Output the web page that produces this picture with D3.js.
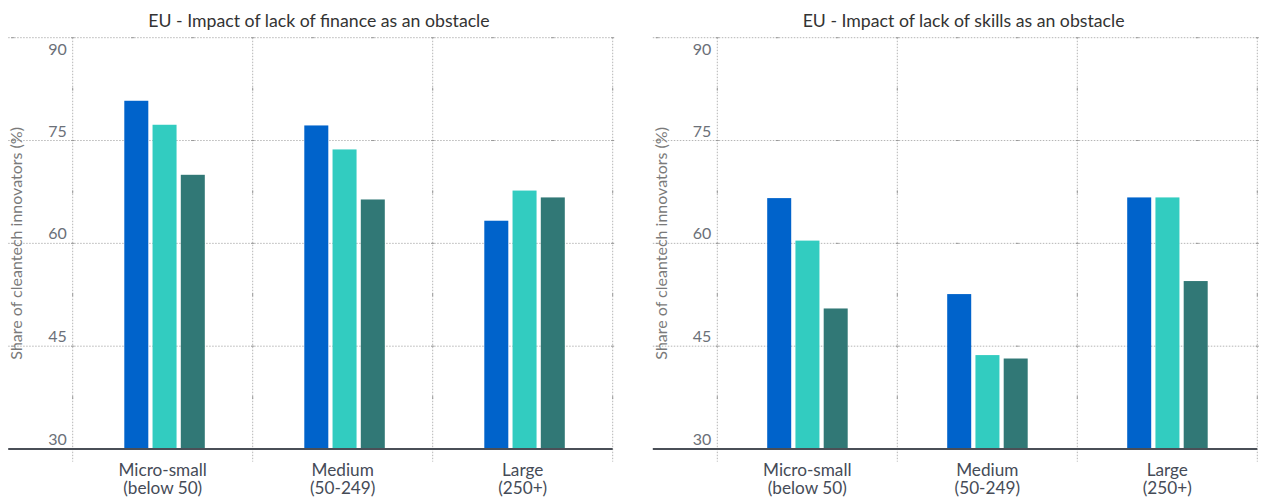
<!DOCTYPE html>
<html>
<head>
<meta charset="utf-8">
<script src="https://cdn.jsdelivr.net/npm/d3@7"></script>
<style>
  html, body { margin: 0; padding: 0; background: #fff; }
  svg { display: block; }
  text { font-family: Lato, "Open Sans", sans-serif; }
</style>
</head>
<body>
<svg id="chart" width="1264" height="500"></svg>
<script>
// ---- data ----
const categoryLine1 = ["Micro-small", "Medium", "Large"];
const categoryLine2 = ["(below 50)", "(50-249)", "(250+)"];
const seriesKeys = ["Series 1", "Series 2", "Series 3"];
const seriesColors = ["#0063CB", "#32CCC0", "#317876"];
const yTicks = [30, 45, 60, 75, 90];
const financeValues = [
  [80.8, 77.3, 70.0],
  [77.2, 73.7, 66.4],
  [63.3, 67.7, 66.7]
];
const skillsValues = [
  [66.6, 60.4, 50.5],
  [52.6, 43.7, 43.2],
  [66.7, 66.7, 54.5]
];
const titles = [
  "EU - Impact of lack of finance as an obstacle",
  "EU - Impact of lack of skills as an obstacle"
];
const yAxisTitle = "Share of cleantech innovators (%)";

// ---- layout ----
const svg = d3.select("#chart");
const plotTop = 37.7, plotBottom = 449;
const panels = [
  { left: 72.7, right: 612.7, barStart: 51.6, values: financeValues, title: titles[0] },
  { left: 717.3, right: 1257.3, barStart: 49.9, values: skillsValues, title: titles[1] }
];

panels.forEach(p => {
  const g = svg.append("g");
  const x0 = d3.scaleBand().domain(categoryLine1).range([p.left, p.right]).paddingInner(0).paddingOuter(0);
  const x1 = d3.scaleBand().domain(seriesKeys).range([p.barStart, p.barStart + 80.5]).paddingInner(0.15);
  const y = d3.scaleLinear().domain([30, 90]).range([plotBottom, plotTop]);
  const gridLeft = p.left - 64.5;

  // horizontal gridlines
  g.selectAll(".hgrid").data(yTicks.slice(1)).join("line")
    .attr("x1", gridLeft).attr("x2", p.right)
    .attr("y1", d => y(d)).attr("y2", d => y(d))
    .attr("stroke", "#b5b5b5").attr("stroke-width", 1)
    .attr("stroke-dasharray", "1.5,1.5");

  // vertical gridlines (band boundaries)
  const bounds = categoryLine1.map(c => x0(c)).concat([p.right]);
  g.selectAll(".vgrid").data(bounds).join("line")
    .attr("x1", d => d).attr("x2", d => d)
    .attr("y1", plotTop).attr("y2", plotBottom + 12.7)
    .attr("stroke", "#b5b5b5").attr("stroke-width", 1)
    .attr("stroke-dasharray", "1.5,1.5");

  // minor marks on horizontal gridlines
  const minorX = d3.range(p.left - 60, p.right + 1, 60);
  yTicks.slice(1).forEach(t => {
    g.selectAll(null).data(minorX).join("line")
      .attr("x1", d => d - 1.5).attr("x2", d => d + 1.5)
      .attr("y1", y(t)).attr("y2", y(t))
      .attr("stroke", "#999").attr("stroke-width", 1);
  });
  // minor marks on vertical gridlines
  const minorY = d3.range(37.5, 90, 15);
  bounds.forEach(b => {
    g.selectAll(null).data(minorY).join("line")
      .attr("x1", b).attr("x2", b)
      .attr("y1", d => y(d) - 1.5).attr("y2", d => y(d) + 1.5)
      .attr("stroke", "#999").attr("stroke-width", 1);
  });

  // bars
  const groups = g.selectAll(".grp").data(p.values).join("g")
    .attr("transform", (d, i) => `translate(${x0(categoryLine1[i])},0)`);
  groups.selectAll("rect").data(d => d.map((v, j) => ({ v, k: seriesKeys[j], c: seriesColors[j] })))
    .join("rect")
    .attr("x", d => x1(d.k))
    .attr("width", x1.bandwidth())
    .attr("y", d => y(d.v))
    .attr("height", d => y(30) - y(d.v))
    .attr("fill", d => d.c);

  // baseline
  g.append("line")
    .attr("x1", gridLeft).attr("x2", p.right)
    .attr("y1", y(30)).attr("y2", y(30))
    .attr("stroke", "#4a4f57").attr("stroke-width", 2);

  // y tick labels
  g.selectAll(".ylab").data(yTicks).join("text")
    .attr("x", p.left - 6)
    .attr("y", d => Math.max(y(d) - 4, plotTop + 17.3))
    .attr("text-anchor", "end")
    .attr("font-size", 16)
    .attr("fill", "#6b7078")
    .text(d => d);

  // y axis title
  g.append("text")
    .attr("transform", `translate(${p.left - 50.5},${(plotTop + plotBottom) / 2}) rotate(-90)`)
    .attr("text-anchor", "middle")
    .attr("font-size", 16)
    .attr("fill", "#7a7a7a")
    .text(yAxisTitle);

  // category labels
  const cl = g.selectAll(".cat").data(categoryLine1).join("text")
    .attr("x", d => x0(d) + x0.bandwidth() / 2)
    .attr("text-anchor", "middle")
    .attr("font-size", 17.2)
    .attr("fill", "#454b57");
  cl.append("tspan").attr("x", d => x0(d) + x0.bandwidth() / 2).attr("y", 475.5).text(d => d);
  cl.append("tspan").attr("x", d => x0(d) + x0.bandwidth() / 2).attr("y", 494).text((d, i) => categoryLine2[i]);

  // title
  g.append("text")
    .attr("x", p.left + 246.3)
    .attr("y", 27)
    .attr("text-anchor", "middle")
    .attr("font-size", 17.7)
    .attr("fill", "#333")
    .text(p.title);
});
</script>
</body>
</html>
